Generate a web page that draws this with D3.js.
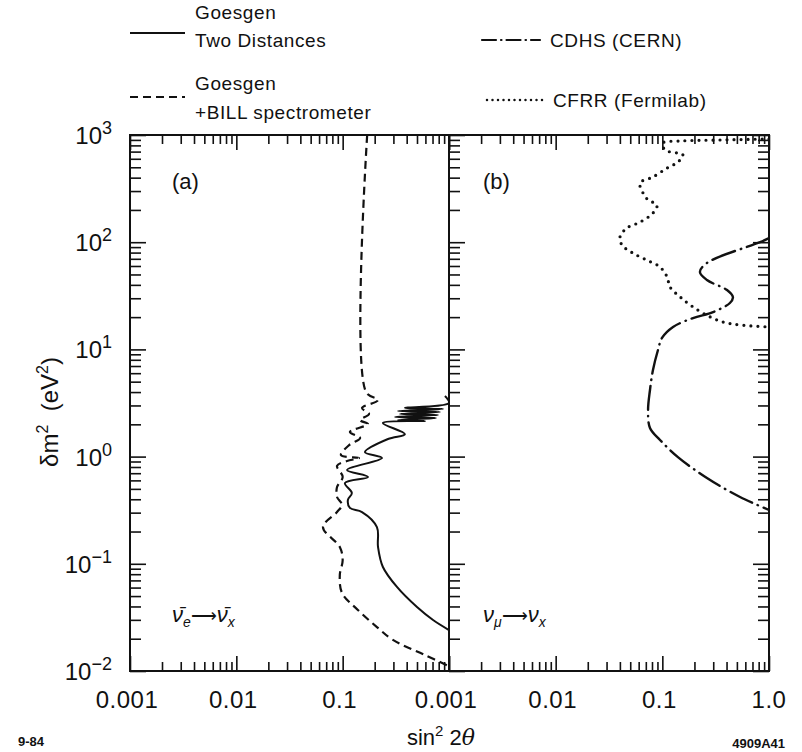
<!DOCTYPE html>
<html>
<head>
<meta charset="utf-8">
<script src="https://cdn.jsdelivr.net/npm/d3@7"></script>
<style>
  body { margin: 0; background: #fff; }
  text { font-family: "Liberation Sans", Arial, sans-serif; fill: #111; }
</style>
</head>
<body>
<script>
// values are [sin^2 2theta, delta m^2 (eV^2)]
var twoDistances = [
  [0.916, 3.67], [1.0, 3.16], [0.385, 2.84], [0.879, 2.78], [0.331, 2.66], [0.822, 2.61],
  [0.346, 2.50], [0.789, 2.44], [0.310, 2.34], [0.755, 2.29], [0.331, 2.19], [0.594, 2.15],
  [0.239, 2.06], [0.385, 1.62], [0.267, 1.46], [0.162, 1.10], [0.234, 0.97], [0.110, 0.75],
  [0.173, 0.646], [0.105, 0.567], [0.122, 0.457], [0.112, 0.394], [0.117, 0.332], [0.152, 0.304],
  [0.210, 0.220], [0.215, 0.1436], [0.239, 0.0934], [0.324, 0.0608], [0.500, 0.0395],
  [0.708, 0.0299], [1.0, 0.0241]
];
var bill = [
  [0.170, 1000], [0.166, 4.0], [0.215, 3.37], [0.152, 2.84], [0.177, 2.50], [0.146, 2.19],
  [0.173, 2.01], [0.117, 1.70], [0.146, 1.49], [0.115, 1.28], [0.0964, 1.03], [0.1425, 0.97],
  [0.1099, 0.91], [0.0885, 0.82], [0.100, 0.646], [0.0885, 0.52], [0.0885, 0.42], [0.0986, 0.354],
  [0.0885, 0.304], [0.0653, 0.220], [0.094, 0.1436], [0.100, 0.108], [0.094, 0.0788],
  [0.0986, 0.0535], [0.139, 0.0371], [0.210, 0.0257], [0.297, 0.0195], [0.594, 0.0141], [1.0, 0.0111]
];
var cdhs = [
  [1.0, 109], [0.824, 100], [0.262, 64], [0.225, 52.7], [0.262, 44.4], [0.404, 35.8],
  [0.459, 30.8], [0.430, 27.1], [0.299, 22.3], [0.194, 19.6], [0.126, 16.2], [0.0993, 12.8],
  [0.091, 9.86], [0.0817, 6.43], [0.0766, 4.18], [0.0735, 2.72], [0.0766, 1.85], [0.0951, 1.43],
  [0.140, 0.99], [0.262, 0.631], [0.535, 0.42], [1.0, 0.318]
];
var cfrr = [
  [1.0, 918], [0.348, 898], [0.147, 879], [0.101, 842], [0.106, 724], [0.156, 651],
  [0.140, 560], [0.111, 492], [0.0817, 406], [0.0618, 357], [0.0659, 288], [0.0735, 248],
  [0.0891, 222], [0.0817, 187], [0.0618, 154], [0.0467, 136], [0.0401, 112], [0.0419, 94],
  [0.0531, 79], [0.0718, 68], [0.0951, 58.7], [0.111, 47.3], [0.118, 38.2], [0.147, 30.8],
  [0.194, 24.9], [0.280, 20.1], [0.371, 18.0], [0.535, 16.9], [1.0, 16.2]
];

var xLabelsA = ["0.001", "0.01", "0.1"];
var xLabelsB = ["0.001", "0.01", "0.1", "1.0"];
var yExponents = ["3", "2", "1", "0", "-1", "-2"];

var svg = d3.select("body").append("svg")
  .attr("width", 802)
  .attr("height", 752);

var top0 = 135, bot0 = 671;
var xa = d3.scaleLog().domain([0.001, 1]).range([130, 449]);
var xb = d3.scaleLog().domain([0.001, 1]).range([449, 769]);
var y = d3.scaleLog().domain([0.01, 1000]).range([bot0, top0]);

function isMajor(v) {
  var e = Math.log10(v);
  return Math.abs(e - Math.round(e)) < 1e-6;
}

// ticks: minor and major drawn separately so lengths differ
function ticks(axisFn, scale, tx, ty, minorLen, majorLen) {
  var all = scale.ticks();
  var minor = all.filter(function(v) { return !isMajor(v); });
  var major = all.filter(isMajor);
  [[minor, minorLen], [major, majorLen]].forEach(function(p) {
    var g = svg.append("g")
      .attr("transform", "translate(" + tx + "," + ty + ")")
      .call(axisFn(scale).tickValues(p[0]).tickSize(-p[1]).tickSizeOuter(0).tickFormat(""));
    g.select(".domain").remove();
    g.selectAll("line").attr("stroke", "#111").attr("stroke-width", 1.6);
  });
}

ticks(d3.axisTop, xa, 0, top0, 9, 15);
ticks(d3.axisTop, xb, 0, top0, 9, 15);
ticks(d3.axisBottom, xa, 0, bot0, 9, 15);
ticks(d3.axisBottom, xb, 0, bot0, 9, 15);
ticks(d3.axisLeft, y, 130, 0, 11, 16);
ticks(d3.axisLeft, y, 449, 0, 11, 16);
ticks(d3.axisRight, y, 769, 0, 11, 16);

// frames
svg.append("rect")
  .attr("x", 130).attr("y", top0)
  .attr("width", 639).attr("height", bot0 - top0)
  .attr("fill", "none").attr("stroke", "#111").attr("stroke-width", 2);
svg.append("line")
  .attr("x1", 449).attr("x2", 449).attr("y1", top0).attr("y2", bot0)
  .attr("stroke", "#111").attr("stroke-width", 2);

var defs = svg.append("defs");
defs.append("clipPath").attr("id", "clipA").append("rect")
  .attr("x", 130).attr("y", top0).attr("width", 319).attr("height", bot0 - top0);
defs.append("clipPath").attr("id", "clipB").append("rect")
  .attr("x", 449).attr("y", top0).attr("width", 320).attr("height", bot0 - top0);

function lineFor(xs) {
  return d3.line()
    .x(function(d) { return xs(d[0]); })
    .y(function(d) { return y(d[1]); })
    .curve(d3.curveCatmullRom.alpha(0.5));
}

var styles = {
  solid: { dash: null, cap: "butt", width: 2 },
  dashed: { dash: "8,5", cap: "butt", width: 2.2 },
  dashdot: { dash: "24,6,0.5,6", cap: "round", width: 2.4 },
  dotted: { dash: "0,7", cap: "round", width: 3.2 }
};

function drawCurve(data, xs, clip, st) {
  svg.append("path")
    .datum(data)
    .attr("clip-path", "url(#" + clip + ")")
    .attr("d", lineFor(xs))
    .attr("fill", "none")
    .attr("stroke", "#111")
    .attr("stroke-width", st.width)
    .attr("stroke-linecap", st.cap)
    .attr("stroke-linejoin", "round")
    .attr("stroke-dasharray", st.dash);
}

drawCurve(twoDistances, xa, "clipA", styles.solid);
drawCurve(bill, xa, "clipA", styles.dashed);
drawCurve(cdhs, xb, "clipB", styles.dashdot);
drawCurve(cfrr, xb, "clipB", styles.dotted);

// x tick labels
xLabelsA.forEach(function(t) {
  svg.append("text").attr("x", xa(+t) - 3).attr("y", 708)
    .attr("text-anchor", "middle").attr("font-size", 24).attr("letter-spacing", 0.5).text(t);
});
xLabelsB.forEach(function(t) {
  svg.append("text").attr("x", xb(+t) - (t === "1.0" ? 0 : 3)).attr("y", 708)
    .attr("text-anchor", "middle").attr("font-size", 24).attr("letter-spacing", 0.5).text(t);
});

// y tick labels
yExponents.forEach(function(e) {
  var t = svg.append("text")
    .attr("x", 112).attr("y", y(Math.pow(10, +e)) + 9)
    .attr("text-anchor", "end").attr("font-size", 24);
  t.append("tspan").text("10");
  t.append("tspan").attr("dy", -10).attr("font-size", 18).text(e.charAt(0) === "-" ? "\u2212" + e.slice(1) : e);
});

// axis titles
var yt = svg.append("text")
  .attr("transform", "translate(58,412) rotate(-90)")
  .attr("text-anchor", "middle").attr("font-size", 24);
yt.append("tspan").text("\u03b4m");
yt.append("tspan").attr("dy", -10).attr("font-size", 16).text("2");
yt.append("tspan").attr("dy", 10).text("\u00a0\u00a0(eV");
yt.append("tspan").attr("dy", -10).attr("font-size", 16).text("2");
yt.append("tspan").attr("dy", 10).text(")");

var xt = svg.append("text")
  .attr("x", 441).attr("y", 745)
  .attr("text-anchor", "middle").attr("font-size", 22);
xt.append("tspan").text("sin");
xt.append("tspan").attr("dy", -9).attr("font-size", 15).text("2");
xt.append("tspan").attr("dy", 9).text("\u00a02");
xt.append("tspan").attr("font-style", "italic").attr("font-family", "DejaVu Serif").text("\u03b8");

svg.append("text").attr("x", 18).attr("y", 746).attr("font-size", 13).attr("font-weight", "bold").text("9-84");
svg.append("text").attr("x", 785).attr("y", 748).attr("text-anchor", "end")
  .attr("font-size", 13).attr("font-weight", "bold").text("4909A41");

// panel labels
svg.append("text").attr("x", 172).attr("y", 189).attr("font-size", 22).text("(a)");
svg.append("text").attr("x", 483).attr("y", 189).attr("font-size", 22).text("(b)");

function reaction(x0, yb, sa, sb, bars) {
  var t = svg.append("text").attr("x", x0).attr("y", yb)
    .attr("font-size", 22).attr("font-family", "DejaVu Serif").attr("font-style", "italic");
  t.append("tspan").text(bars ? "\u03bd\u0304" : "\u03bd");
  t.append("tspan").attr("dy", 5).attr("font-size", 14).text(sa);
  t.append("tspan").attr("dy", -5).attr("font-style", "normal").attr("font-size", 18).text("\u27f6");
  t.append("tspan").text(bars ? "\u03bd\u0304" : "\u03bd");
  t.append("tspan").attr("dy", 5).attr("font-size", 14).text(sb);
}
reaction(172, 622, "e", "x", true);
reaction(483, 622, "\u03bc", "x", false);

// legend
var legend = [
  { x: 130, y: 33, st: styles.solid, x2: 185, lines: ["Goesgen", "Two Distances"], tx: 195, ty: [19, 47] },
  { x: 130, y: 97, st: styles.dashed, x2: 185, lines: ["Goesgen", "+BILL spectrometer"], tx: 195, ty: [90, 119] },
  { x: 482, y: 40, st: { dash: "14,5,0.5,5", cap: "round", width: 2.2 }, x2: 540, lines: ["CDHS (CERN)"], tx: 550, ty: [47] },
  { x: 487, y: 100, st: { dash: "0,5.5", cap: "round", width: 2.5 }, x2: 545, lines: ["CFRR (Fermilab)"], tx: 553, ty: [107] }
];
legend.forEach(function(l) {
  svg.append("line")
    .attr("x1", l.x).attr("x2", l.x2).attr("y1", l.y).attr("y2", l.y)
    .attr("stroke", "#111").attr("stroke-width", l.st.width)
    .attr("stroke-linecap", l.st.cap).attr("stroke-dasharray", l.st.dash);
  l.lines.forEach(function(s, i) {
    svg.append("text").attr("x", l.tx).attr("y", l.ty[i]).attr("font-size", 19)
      .attr("letter-spacing", 0.6).text(s);
  });
});
</script>
</body>
</html>
